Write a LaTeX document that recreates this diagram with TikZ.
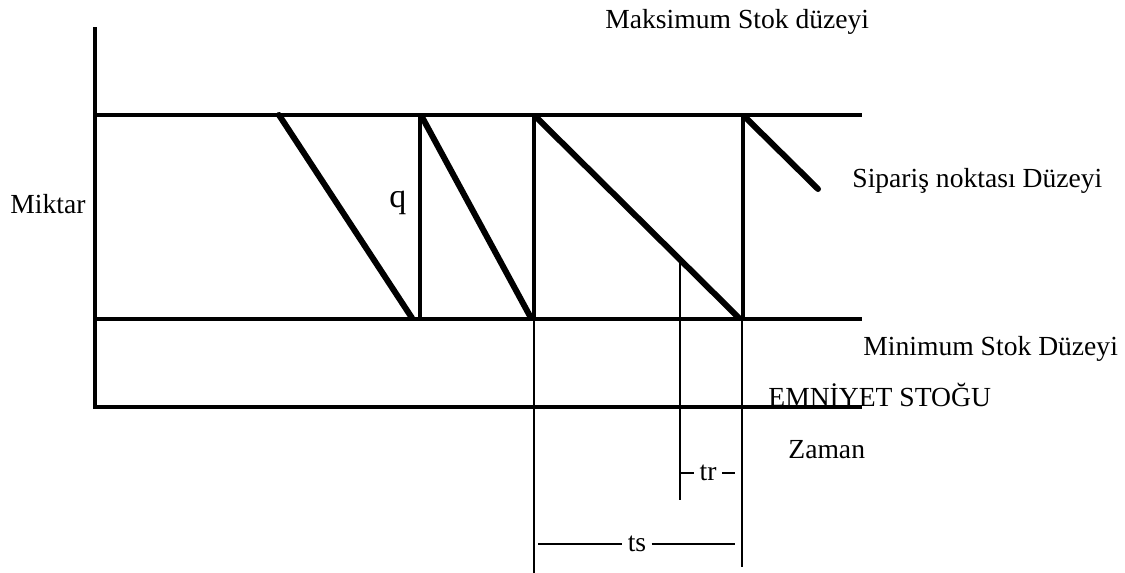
\documentclass[tikz,border=0pt]{standalone}
\usepackage{fontspec}
\setmainfont{Liberation Serif}
\usetikzlibrary{positioning}
\tikzset{
  every picture/.style={line cap=butt},
  level/.style={line width=2.2pt},
  stock/.style={line width=3pt, line cap=round},
  guide/.style={line width=0.8pt},
  lbl/.style={font=\fontsize{13.8}{16}\selectfont, inner sep=0pt, anchor=base west},
  dim/.style={font=\fontsize{13.8}{16}\selectfont, inner sep=2.5pt},
}

\begin{document}
\begin{tikzpicture}[x=0.5pt, y=-0.5pt]
  \useasboundingbox (0,0) rectangle (1125,573);
  % axis and stock levels
  \draw[level] (95,27) -- (95,409);
  \draw[level] (95,115) -- (862,115);
  \draw[level] (95,319) -- (862,319);
  \draw[level] (95,407) -- (862,407);
  % stock curve
  \draw[stock] (279,115) -- (412,318);
  \draw[stock] (422,117) -- (531,318);
  \draw[stock] (536,117) -- (739,318);
  \draw[stock] (745,117) -- (818,189);
  \foreach \x in {420,534,743} { \draw[level] (\x,319) -- (\x,115); }
  % time guides
  \draw[guide] (534,319) -- (534,573);
  \draw[guide] (742,319) -- (742,567);
  \draw[guide] (680,262) -- (680,500);
  \node[dim] (tr) at (708,473) {tr};
  \draw[guide] (680,473) -- (tr.west);
  \draw[guide] (tr.east) -- (735,473);
  \node[dim] (ts) at (637,544) {ts};
  \draw[guide] (538,544) -- (ts.west);
  \draw[guide] (ts.east) -- (735,544);
  % labels
  \node[lbl] (maks) at (605,28) {Maksimum Stok düzeyi};
  \node[lbl] (siparis) at (852,187) {Sipariş noktası Düzeyi};
  \node[lbl] (miktar) at (10,213) {Miktar};
  \node[lbl, font=\fontsize{17}{19}\selectfont] (q) at (389,207) {q};
  \node[lbl] (mins) at (863,355) {Minimum Stok Düzeyi};
  \node[lbl] (emniyet) at (768,406) {EMNİYET STOĞU};
  \node[lbl] (zaman) at (788,458) {Zaman};
\end{tikzpicture}
\end{document}
